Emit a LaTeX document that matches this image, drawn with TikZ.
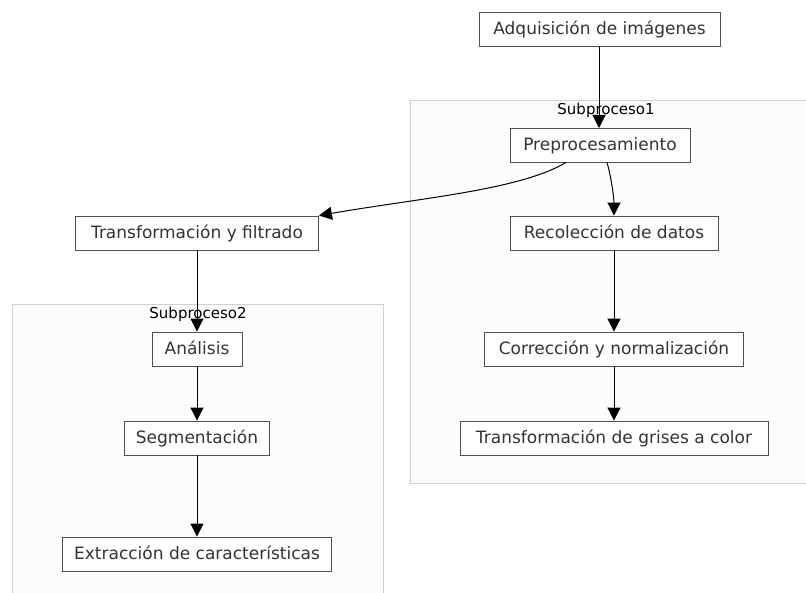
\documentclass[tikz,border=0pt]{standalone}
\usepackage{fontspec}
\setmainfont{DejaVu Sans}
\usetikzlibrary{arrows.meta}
\definecolor{boxline}{HTML}{505050}
\definecolor{boxtext}{HTML}{333333}
\definecolor{clusterline}{HTML}{D0D0D0}
\definecolor{clusterfill}{HTML}{FCFCFC}
\begin{document}
\begin{tikzpicture}[x=1bp,y=-1bp,
  procbox/.style={draw=boxline, line width=0.9bp, fill=white, text=boxtext,
    font=\fontsize{17bp}{20bp}\selectfont, minimum height=34bp, inner xsep=0pt, inner ysep=0pt,
    text height=13bp, text depth=2.5bp},
  cluster/.style={draw=clusterline, fill=clusterfill, line width=0.8bp},
  clusterlabel/.style={font=\fontsize{15bp}{18bp}\selectfont, text=black},
  flow/.style={draw=black, line width=1bp, -{Triangle[length=13bp,width=13bp]}}]
\useasboundingbox (0,0) rectangle (806,593);
\fill[white] (0,0) rectangle (806,593);
% clusters
\path[cluster] (410,100) rectangle (815,483);
\node[clusterlabel] (c1) at (606,110) {Subproceso1};
\path[cluster] (12,304) rectangle (383,600);
\node[clusterlabel] (c2) at (198,314) {Subproceso2};
% nodes
\node[procbox, minimum width=241bp] (adq) at (599.5,29) {Adquisición de imágenes};
\node[procbox, minimum width=180bp] (pre) at (600,145) {Preprocesamiento};
\node[procbox, minimum width=208bp] (rec) at (614,233) {Recolección de datos};
\node[procbox, minimum width=259bp] (cor) at (614,349) {Corrección y normalización};
\node[procbox, minimum width=308bp] (gri) at (614,438) {Transformación de grises a color};
\node[procbox, minimum width=243bp] (tyf) at (197,233) {Transformación y filtrado};
\node[procbox, minimum width=90bp] (ana) at (197,349) {Análisis};
\node[procbox, minimum width=145bp] (seg) at (197,438) {Segmentación};
\node[procbox, minimum width=269bp] (ext) at (197,554) {Extracción de características};
% edges
\draw[flow] (adq.south -| 599,0) -- (599,128);
\draw[flow] (pre.south -| 566,0) .. controls (520,190) and (420,198) .. (tyf.north east);
\draw[flow] (pre.south -| 607,0) .. controls (612,180) and (614,200) .. (rec.north);
\draw[flow] (rec) -- (cor);
\draw[flow] (cor) -- (gri);
\draw[flow] (tyf) -- (ana);
\draw[flow] (ana) -- (seg);
\draw[flow] (seg) -- (ext);
\end{tikzpicture}
\end{document}
